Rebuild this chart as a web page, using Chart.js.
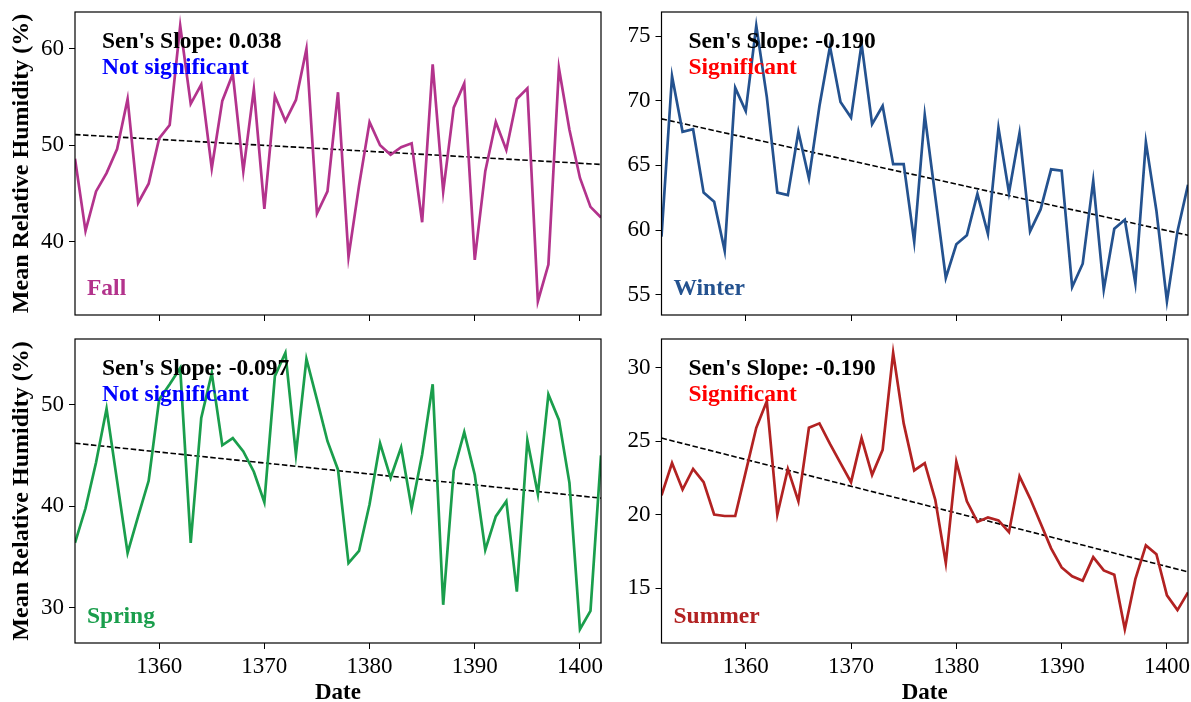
<!DOCTYPE html>
<html>
<head>
<meta charset="utf-8">
<script src="https://cdn.jsdelivr.net/npm/chart.js@4"></script>
<style>
  body { margin: 0; background: #fff; }
  #wrap { position: relative; width: 1191px; height: 702px; overflow: hidden; }
  canvas { position: absolute; }
</style>
</head>
<body>
<div id="wrap">
  <canvas id="fall" width="613" height="349" style="left:0;top:-12px"></canvas>
  <canvas id="winter" width="595" height="349" style="left:605px;top:-12px"></canvas>
  <canvas id="spring" width="613" height="390" style="left:0;top:315px"></canvas>
  <canvas id="summer" width="595" height="390" style="left:605px;top:315px"></canvas>
</div>
<script>
var years = [];
for (var yr = 1352; yr <= 1402; yr++) years.push(yr);

var fall = [48.6, 41.1, 45.2, 47.1, 49.6, 54.8, 44.0, 46.0, 50.7, 52.1,
            62.4, 54.3, 56.3, 47.6, 54.6, 57.4, 47.3, 55.8, 43.4, 55.1,
            52.5, 54.7, 60.0, 42.9, 45.2, 55.5, 38.4, 45.8, 52.4, 50.0,
            49.0, 49.8, 50.2, 42.0, 58.4, 45.2, 53.9, 56.4, 38.1, 47.3,
            52.4, 49.5, 54.8, 55.9, 33.8, 37.6, 58.0, 51.6, 46.6, 43.6, 42.5];
var winter = [59.5, 71.9, 67.6, 67.8, 62.9, 62.2, 58.4, 71.0, 69.2, 75.8,
              70.3, 62.9, 62.7, 67.6, 64.0, 69.6, 74.2, 69.9, 68.7, 74.4,
              68.2, 69.6, 65.1, 65.1, 59.1, 68.9, 62.6, 56.3, 58.9, 59.6,
              62.8, 59.7, 67.9, 62.9, 67.5, 59.9, 61.6, 64.7, 64.6, 55.6,
              57.4, 63.8, 55.4, 60.1, 60.8, 55.9, 66.8, 61.5, 54.5, 59.9, 63.5];
var spring = [36.4, 39.8, 44.3, 49.6, 42.5, 35.4, 39.0, 42.5, 50.5, 52.0,
              53.6, 36.4, 48.7, 53.1, 46.0, 46.7, 45.4, 43.4, 40.4, 52.8,
              55.1, 45.1, 54.5, 50.5, 46.4, 43.6, 34.4, 35.6, 40.2, 46.2,
              42.8, 45.8, 39.8, 45.1, 52.0, 30.3, 43.5, 47.3, 43.1, 35.7,
              39.0, 40.5, 31.6, 46.5, 41.2, 51.0, 48.5, 42.3, 27.9, 29.7, 45.0];
var summer = [21.3, 23.5, 21.7, 23.1, 22.2, 20.0, 19.9, 19.9, 22.9, 25.9,
              27.7, 20.0, 23.1, 20.9, 25.9, 26.2, 24.8, 23.5, 22.2, 25.2,
              22.7, 24.4, 31.0, 26.2, 23.0, 23.5, 21.0, 16.7, 23.6, 20.9,
              19.5, 19.8, 19.6, 18.8, 22.6, 21.1, 19.4, 17.7, 16.4, 15.8,
              15.5, 17.1, 16.2, 15.9, 12.2, 15.6, 17.9, 17.3, 14.5, 13.5, 14.7];

// Sen's slope trend lines: value at first and last year
var fallTrend = [51.1, 48.0];
var winterTrend = [68.6, 59.6];
var springTrend = [46.2, 40.8];
var summerTrend = [25.2, 16.1];

var xTicks = [1360, 1370, 1380, 1390, 1400];
var fallTicks = [40, 50, 60];
var winterTicks = [55, 60, 65, 70, 75];
var springTicks = [30, 40, 50];
var summerTicks = [15, 20, 25, 30];

var FONT = '"Liberation Serif", "Times New Roman", serif';

function pts(vals) {
  return vals.map(function(v, i) { return {x: years[i], y: v}; });
}

var frameAndText = {
  id: 'frameAndText',
  afterDraw: function(chart) {
    var a = chart.chartArea, ctx = chart.ctx, o = chart.options.plugins.frameAndText;
    ctx.save();
    ctx.strokeStyle = '#000';
    ctx.lineWidth = 1.2;
    ctx.strokeRect(a.left, a.top, a.right - a.left, a.bottom - a.top);
    ctx.font = 'bold 23.5px ' + FONT;
    ctx.textBaseline = 'alphabetic';
    ctx.fillStyle = '#000';
    ctx.fillText("Sen's Slope: " + o.slope, a.left + 27, a.top + 36);
    ctx.fillStyle = o.sigColor;
    ctx.fillText(o.sig, a.left + 27, a.top + 62);
    ctx.fillStyle = o.color;
    ctx.fillText(o.season, a.left + 12, a.bottom - 20);
    ctx.restore();
  }
};

function makePanel(id, vals, trend, yTicks, color, season, slope, sig, sigColor, p) {
  var all = vals.concat(trend);
  var lo = Math.min.apply(null, all), hi = Math.max.apply(null, all);
  var pad = (hi - lo) * 0.05;
  return new Chart(document.getElementById(id), {
    type: 'line',
    data: {
      datasets: [{
        data: pts(vals),
        borderColor: color,
        borderWidth: 2.7,
        pointRadius: 0,
        tension: 0
      }, {
        data: [{x: years[0], y: trend[0]}, {x: years[years.length - 1], y: trend[1]}],
        borderColor: '#000',
        borderWidth: 1.6,
        borderDash: [5.5, 2.5],
        pointRadius: 0
      }]
    },
    options: {
      responsive: false,
      animation: false,
      layout: {padding: {top: 24, right: 12, left: 0, bottom: p.bottom}},
      plugins: {
        legend: {display: false},
        tooltip: {enabled: false},
        frameAndText: {slope: slope, sig: sig, sigColor: sigColor, season: season, color: color}
      },
      scales: {
        x: {
          type: 'linear',
          min: years[0],
          max: years[years.length - 1],
          afterBuildTicks: function(s) { s.ticks = xTicks.map(function(v) { return {value: v}; }); },
          afterFit: function(s) { s.height = p.xh; },
          border: {display: false},
          grid: {drawOnChartArea: false, drawTicks: true, tickLength: 6, color: '#000'},
          ticks: {display: p.xLabels, color: '#000', padding: 4, maxRotation: 0,
                  font: {family: FONT, size: 23},
                  callback: function(v) { return String(v); }},
          title: {display: p.xLabels, text: 'Date', color: '#000',
                  font: {family: FONT, size: 23, weight: 'bold', lineHeight: 1},
                  padding: {top: 0, bottom: 0}}
        },
        y: {
          min: lo - pad,
          max: hi + pad,
          afterBuildTicks: function(s) { s.ticks = yTicks.map(function(v) { return {value: v}; }); },
          afterFit: function(s) { s.width = p.yw; },
          border: {display: false},
          grid: {drawOnChartArea: false, drawTicks: true, tickLength: 6, color: '#000'},
          ticks: {color: '#000', padding: 5, font: {family: FONT, size: 23}},
          title: {display: p.yTitle, text: 'Mean Relative Humidity (%)', color: '#000',
                  font: {family: FONT, size: 24, weight: 'bold', lineHeight: 1},
                  padding: {top: 10, bottom: 0}}
        }
      }
    },
    plugins: [frameAndText]
  });
}

makePanel('fall', fall, fallTrend, fallTicks, '#b3338c', 'Fall', '0.038', 'Not significant', '#0000ff',
  {bottom: 12, xh: 10, yw: 75, xLabels: false, yTitle: true});
makePanel('winter', winter, winterTrend, winterTicks, '#24528f', 'Winter', '-0.190', 'Significant', '#ff0000',
  {bottom: 12, xh: 10, yw: 56.5, xLabels: false, yTitle: false});
makePanel('spring', spring, springTrend, springTicks, '#1a9e4c', 'Spring', '-0.097', 'Not significant', '#0000ff',
  {bottom: 0, xh: 62, yw: 75, xLabels: true, yTitle: true});
makePanel('summer', summer, summerTrend, summerTicks, '#b22222', 'Summer', '-0.190', 'Significant', '#ff0000',
  {bottom: 0, xh: 62, yw: 56.5, xLabels: true, yTitle: false});
</script>
</body>
</html>
